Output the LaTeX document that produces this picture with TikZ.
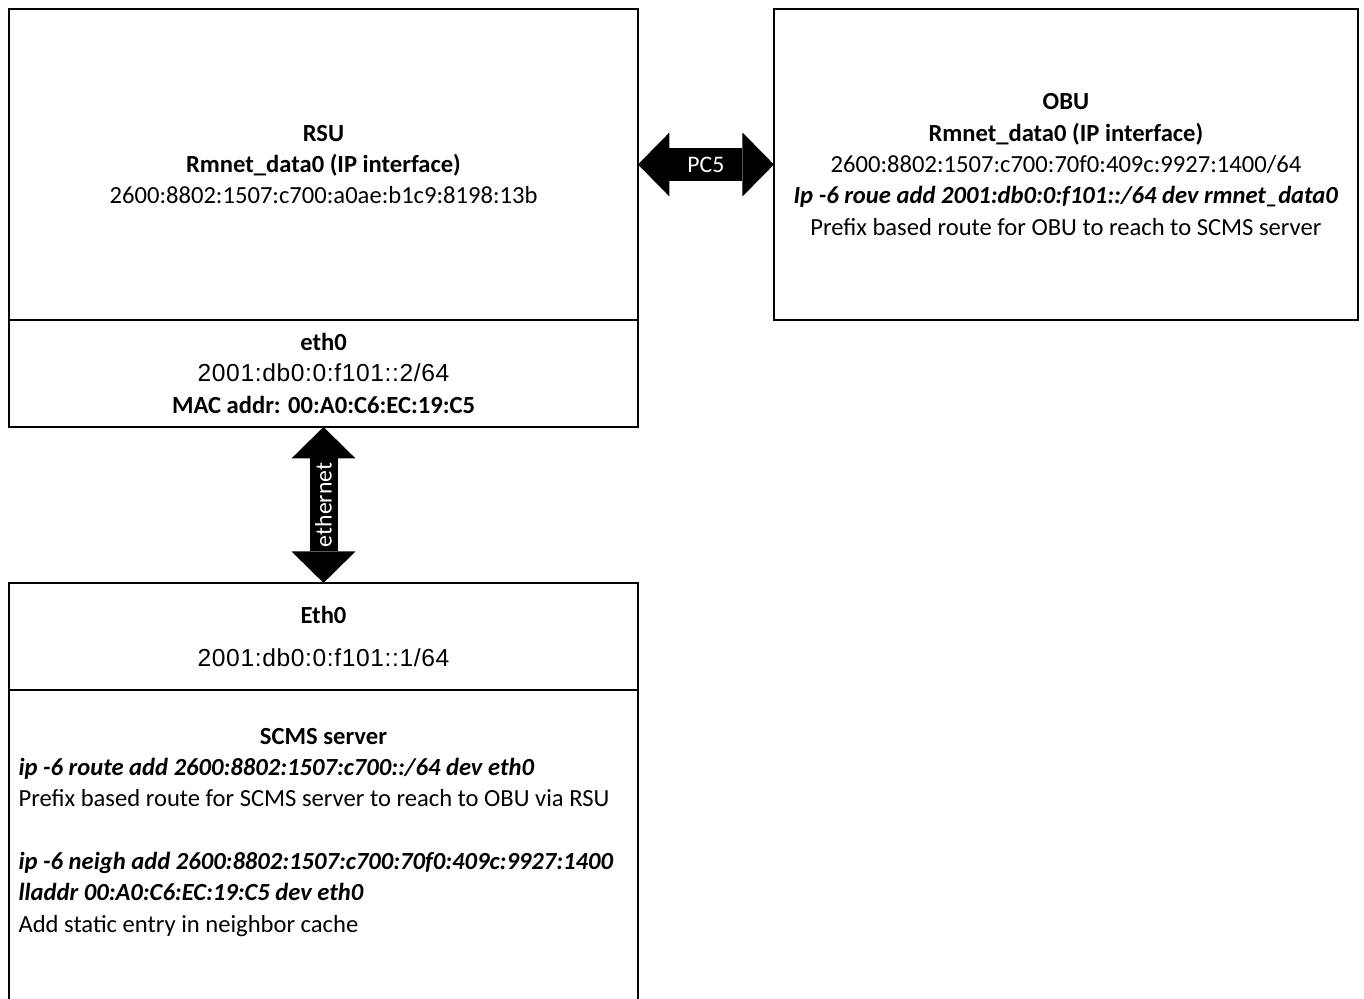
\documentclass[tikz,border=0pt]{standalone}
\usepackage{fontspec}
\setmainfont{Carlito}
\newfontfamily\addrfont{Liberation Sans}[LetterSpace=2.5]
\usetikzlibrary{arrows.meta,positioning}

\begin{document}
\begin{tikzpicture}[x=0.02cm, y=-0.02cm, node distance=0pt,
  every node/.style={font=\fontsize{14}{17.8}\selectfont},
  box/.style={draw, line width=1.1pt, outer sep=0pt, align=center, minimum width=12.58cm},
  pipe/.style={draw=black, line width=#1,
    {Triangle[length=0.63cm,width=1.28cm,line width=0pt]}-{Triangle[length=0.63cm,width=1.28cm,line width=0pt]}},
  pipe/.default=0.66cm,
  tag/.style={text=white, inner sep=0pt, font=\fontsize{13.5}{16}\selectfont}]
  \useasboundingbox (0,0) rectangle (1364,999);

  % RSU with its ethernet port
  \node[box, minimum height=6.22cm] (rsu) at (323.5,164.5) {\textbf{RSU}\\ \textbf{Rmnet\_data0 (IP interface)}\\ 2600:8802:1507:c700:a0ae:b1c9:8198:13b};
  \node[box, minimum height=2.14cm, below=of rsu] (rsueth) {\textbf{eth0}\\ {\addrfont 2001:db0:0:f101::2/64}\\ \textbf{MAC addr: 00:A0:C6:EC:19:C5}};

  % OBU
  \node[box, minimum width=11.68cm, minimum height=6.22cm, right=2.72cm of rsu] (obu) {\textbf{OBU}\\ \textbf{Rmnet\_data0 (IP interface)}\\ 2600:8802:1507:c700:70f0:409c:9927:1400/64\\ \textbf{\itshape Ip -6 roue add 2001:db0:0:f101::/64 dev rmnet\_data0}\\ Prefix based route for OBU to reach to SCMS server};

  % SCMS server
  \node[box, minimum height=2.14cm, below=3.12cm of rsueth] (scmseth) {\textbf{Eth0}\\[0.22cm] {\addrfont 2001:db0:0:f101::1/64}};
  \node[box, minimum height=6.4cm, below=of scmseth] (scms) {};
  \node[text width=12.2cm, align=flush left, inner sep=0pt, below=0.76cm of scms.north] (scmstext) {\makebox[\linewidth]{\textbf{SCMS server}}\\
    \textbf{\itshape ip -6 route add 2600:8802:1507:c700::/64 dev eth0}\\
    Prefix based route for SCMS server to reach to OBU via RSU\\[\baselineskip]
    \textbf{\itshape ip -6 neigh add 2600:8802:1507:c700:70f0:409c:9927:1400}\\
    \textbf{\itshape lladdr 00:A0:C6:EC:19:C5 dev eth0}\\
    Add static entry in neighbor cache};

  % links
  \draw[pipe] (rsu) -- (obu) node[midway, tag] (pc5) {PC5};
  \draw[pipe=0.56cm] (rsueth) -- (scmseth) node[midway, tag, rotate=90] (eth) {ethernet};
\end{tikzpicture}
\end{document}
